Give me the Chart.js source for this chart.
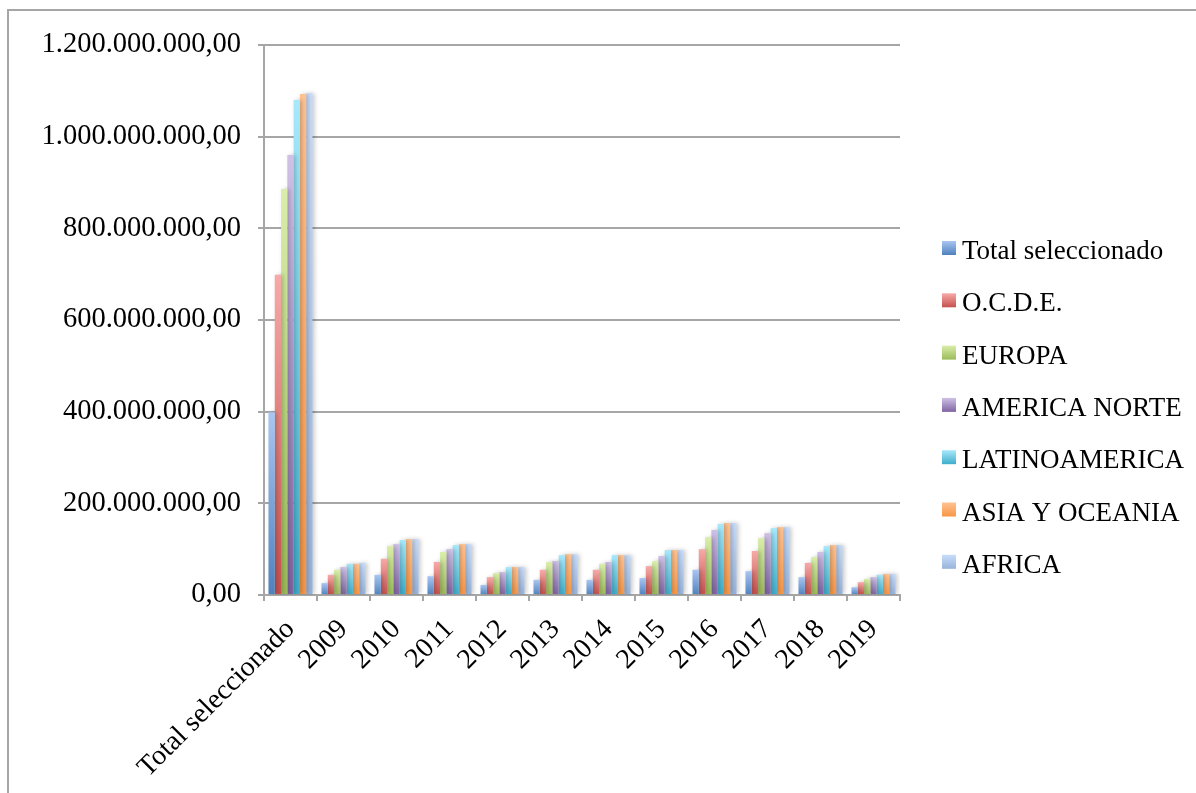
<!DOCTYPE html>
<html>
<head>
<meta charset="utf-8">
<script src="https://cdn.jsdelivr.net/npm/chart.js@4.4.1/dist/chart.umd.min.js"></script>
<style>
  html, body { margin: 0; padding: 0; background: #fff; }
  #wrap { position: relative; width: 1196px; height: 793px; }
  #frame { position: absolute; left: 7px; top: 9px; width: 1200px; height: 800px;
           border-left: 2px solid #a6a6a6; border-top: 2px solid #a6a6a6; pointer-events: none; }
  canvas { position: absolute; left: 0; top: 0; }
</style>
</head>
<body>
<div id="wrap">
  <canvas id="c" width="1196" height="793"></canvas>
  <div id="frame"></div>
</div>
<script>
const categories = ["Total seleccionado", "2009", "2010", "2011", "2012", "2013", "2014", "2015", "2016", "2017", "2018", "2019"];
const seriesNames = ["Total seleccionado", "O.C.D.E.", "EUROPA", "AMERICA NORTE", "LATINOAMERICA", "ASIA Y OCEANIA", "AFRICA"];

const totalSeleccionado = [399e6, 26e6, 44e6, 41e6, 22e6, 33e6, 33e6, 37e6, 55e6, 52e6, 39e6, 17e6];
const ocde              = [699e6, 44e6, 79e6, 72e6, 39e6, 55e6, 55e6, 63e6, 100e6, 96e6, 70e6, 28e6];
const europa            = [886e6, 55e6, 107e6, 94e6, 48e6, 72e6, 68e6, 74e6, 126e6, 124e6, 83e6, 35e6];
const americaNorte      = [960e6, 61e6, 111e6, 100e6, 50e6, 74e6, 72e6, 85e6, 142e6, 135e6, 94e6, 39e6];
const latinoamerica     = [1080e6, 68e6, 120e6, 109e6, 61e6, 87e6, 87e6, 98e6, 155e6, 146e6, 107e6, 44e6];
const asiaOceania       = [1093e6, 68e6, 122e6, 111e6, 61e6, 89e6, 87e6, 98e6, 157e6, 148e6, 109e6, 46e6];
const africa            = [1095e6, 70e6, 122e6, 111e6, 61e6, 89e6, 87e6, 98e6, 157e6, 148e6, 109e6, 46e6];

const yTicks = [0, 200e6, 400e6, 600e6, 800e6, 1000e6, 1200e6];

const seriesValues = [totalSeleccionado, ocde, europa, americaNorte, latinoamerica, asiaOceania, africa];
const colorsTop    = ["#a9c6f2", "#f7aaa8", "#d9eeaa", "#cfc1e6", "#a8e8fb", "#ffc392", "#c8ddfb"];
const colorsBottom = ["#4f81bd", "#c4504d", "#9bbb59", "#8064a2", "#3eaecb", "#f79646", "#98b3da"];

const FONT = "'Liberation Serif', 'Times New Roman', serif";

function fmt(v) {
  const intPart = Math.round(v).toString().replace(/\B(?=(\d{3})+(?!\d))/g, ".");
  return intPart + ",00";
}

function barGradient(i) {
  return (ctx) => {
    const chart = ctx.chart;
    const ys = chart.scales && chart.scales.y;
    if (ctx.type !== 'data' || !ys || !chart.chartArea) return colorsBottom[i];
    const top = ys.getPixelForValue(ctx.raw);
    const base = ys.getPixelForValue(0);
    if (!isFinite(top) || !isFinite(base) || Math.abs(base - top) < 1) return colorsBottom[i];
    const g = chart.ctx.createLinearGradient(0, base, 0, top);
    g.addColorStop(0, colorsBottom[i]);
    g.addColorStop(1, colorsTop[i]);
    return g;
  };
}

const datasets = seriesNames.map((name, i) => ({
  label: name,
  data: seriesValues[i],
  backgroundColor: barGradient(i),
  borderWidth: 0,
  categoryPercentage: 0.83,
  barPercentage: 1.0
}));

const shadowPlugin = {
  id: 'barShadow',
  beforeDatasetsDraw(chart) {
    const c = chart.ctx;
    c.save();
    c.shadowColor = 'rgba(0,0,0,0.22)';
    c.shadowBlur = 4;
    c.shadowOffsetX = 2;
    c.shadowOffsetY = 0;
  },
  afterDatasetsDraw(chart) {
    chart.ctx.restore();
  }
};

const legendPlugin = {
  id: 'sideLegend',
  afterDraw(chart) {
    const c = chart.ctx;
    c.save();
    c.font = "27px " + FONT;
    c.textBaseline = 'alphabetic';
    c.textAlign = 'left';
    chart.data.datasets.forEach((ds, i) => {
      const base = 259 + i * 52.3;
      const bx = 942, by = base - 18, bs = 14;
      const g = c.createLinearGradient(0, by + bs, 0, by);
      g.addColorStop(0, colorsBottom[i]);
      g.addColorStop(1, colorsTop[i]);
      c.fillStyle = g;
      c.fillRect(bx, by, bs, bs);
      c.fillStyle = '#000';
      c.fillText(ds.label, 962, base);
    });
    c.restore();
  }
};

new Chart(document.getElementById('c'), {
  type: 'bar',
  data: { labels: categories, datasets: datasets },
  plugins: [shadowPlugin, legendPlugin],
  options: {
    responsive: false,
    animation: false,
    layout: { padding: { left: 0, top: 45, right: 296, bottom: 0 } },
    plugins: { legend: { display: false }, tooltip: { enabled: false } },
    scales: {
      x: {
        offset: true,
        afterFit: (s) => { s.height = 793 - 595; },
        grid: { display: true, drawOnChartArea: false, drawTicks: true, tickLength: 6, color: '#a6a6a6', lineWidth: 2, offset: true },
        border: { display: true, color: '#a6a6a6', width: 2 },
        ticks: {
          autoSkip: false, maxRotation: 45, minRotation: 45, padding: 12,
          color: '#000', font: { family: FONT, size: 28 }
        }
      },
      y: {
        min: 0, max: 1200e6,
        afterFit: (s) => { s.width = 264; },
        afterBuildTicks: (s) => { s.ticks = yTicks.map(v => ({ value: v })); },
        grid: { color: '#a6a6a6', lineWidth: 2, drawTicks: true, tickLength: 6 },
        border: { display: true, color: '#a6a6a6', width: 2 },
        ticks: {
          padding: 17, color: '#000', font: { family: FONT, size: 28.5 },
          callback: (v) => fmt(v)
        }
      }
    }
  }
});
</script>
</body>
</html>
